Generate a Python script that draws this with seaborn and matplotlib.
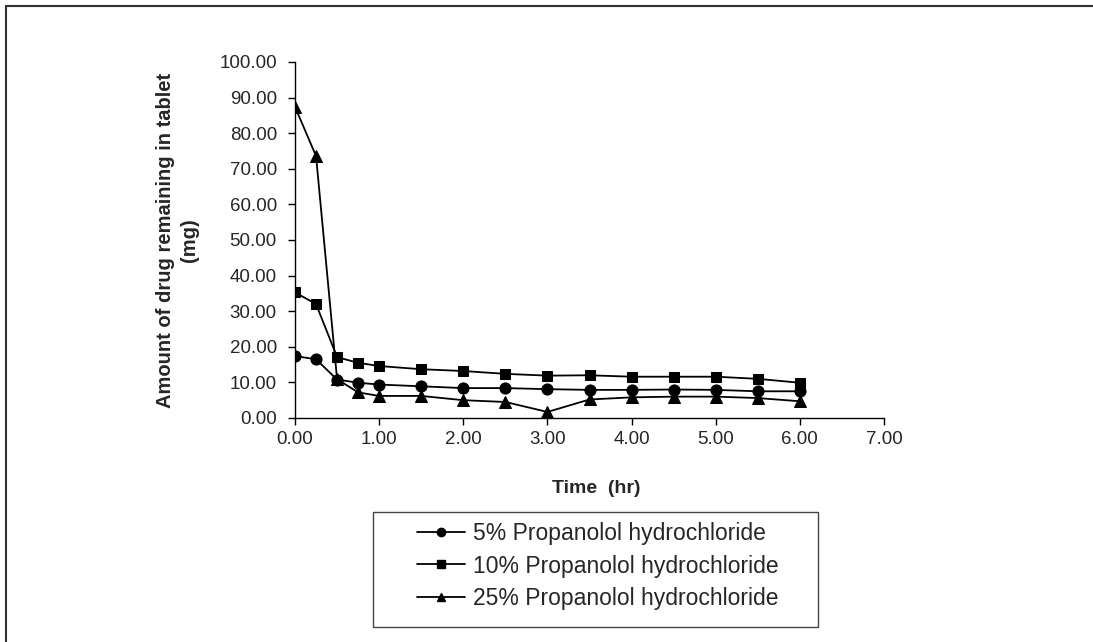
import matplotlib
matplotlib.use("Agg")
import matplotlib.pyplot as plt
from matplotlib.lines import Line2D
from matplotlib.patches import Rectangle
from matplotlib.ticker import FormatStrFormatter, MultipleLocator
import seaborn as sns
import pandas as pd

# Release data: time (hr) vs drug remaining in tablet (mg)
time_hr = [0, 0.25, 0.5, 0.75, 1.0, 1.5, 2.0, 2.5, 3.0, 3.5, 4.0, 4.5, 5.0, 5.5, 6.0]
drug_5 = [17.4, 16.5, 10.8, 9.9, 9.4, 8.9, 8.4, 8.4, 8.1, 7.9, 7.9, 8.0, 7.9, 7.5, 7.5]
drug_10 = [35.3, 32.0, 17.1, 15.5, 14.6, 13.7, 13.2, 12.4, 11.9, 12.0, 11.6, 11.6, 11.6, 11.0, 9.9]
drug_25 = [87.4, 73.6, 10.9, 7.2, 6.2, 6.2, 5.0, 4.5, 1.7, 5.2, 5.8, 6.0, 6.0, 5.6, 4.7]

series_labels = [
    "5% Propanolol hydrochloride",
    "10% Propanolol hydrochloride",
    "25% Propanolol hydrochloride",
]
series_values = [drug_5, drug_10, drug_25]
series_markers = ["o", "s", "^"]
marker_sizes = [8.0, 7.5, 8.5]

sns.set_style("white")
plt.rcParams["font.family"] = ["Liberation Sans", "DejaVu Sans"]

W, H = 1093, 642
fig = plt.figure(figsize=(W / 100, H / 100), dpi=100)
ax = fig.add_axes([295 / W, 1 - 418 / H, (884 - 295) / W, (418 - 62) / H])

for label, vals, mk, ms in zip(series_labels, series_values, series_markers, marker_sizes):
    df = pd.DataFrame({"Time": time_hr, "Amount": vals})
    sns.lineplot(data=df, x="Time", y="Amount", ax=ax, color="black",
                 marker=mk, markersize=ms, markeredgecolor="black",
                 linewidth=1.3, label=label, legend=False)

ax.set_xlim(0, 7)
ax.set_ylim(0, 100)
ax.xaxis.set_major_locator(MultipleLocator(1))
ax.yaxis.set_major_locator(MultipleLocator(10))
ax.xaxis.set_major_formatter(FormatStrFormatter("%.2f"))
ax.yaxis.set_major_formatter(FormatStrFormatter("%.2f"))
ax.tick_params(axis="both", which="major", direction="out", length=5, width=1,
               color="black", labelsize=13.5, bottom=True, left=True)
ax.tick_params(axis="y", pad=8)
ax.tick_params(axis="x", pad=4)

for side in ["top", "right"]:
    ax.spines[side].set_visible(False)
for side in ["left", "bottom"]:
    ax.spines[side].set_color("black")
    ax.spines[side].set_linewidth(1.0)

ax.set_xlabel("Time  (hr)", fontsize=14, fontweight="bold")
ax.set_ylabel("Amount of drug remaining in tablet\n(mg)", fontsize=14.5,
              fontweight="bold", linespacing=1.3)
ax.xaxis.set_label_coords(0.511, -0.175)
ax.yaxis.set_label_coords(-0.163, 0.5)

# Legend inside a separate boxed area below the axes
handles = [Line2D([0], [0], color="black", linewidth=1.3, marker=mk, markersize=6)
           for mk in series_markers]
fig.legend(handles, series_labels, loc="center",
           bbox_to_anchor=(598 / W, 1 - 566 / H), frameon=False,
           fontsize=16.5, handlelength=2.1, handletextpad=0.35, labelspacing=0.4)
fig.patches.append(Rectangle((373 / W, 1 - 627 / H), (818 - 373) / W, (627 - 512) / H,
                             transform=fig.transFigure, fill=False,
                             edgecolor="#444444", linewidth=1.0))

# Outer chart frame (top and left edges)
fig.lines.append(Line2D([6 / W, 6 / W], [1 - 6 / H, 0], transform=fig.transFigure,
                        color="#333333", linewidth=1.5))
fig.lines.append(Line2D([6 / W, 1], [1 - 6 / H, 1 - 6 / H], transform=fig.transFigure,
                        color="#333333", linewidth=1.5))

fig.savefig("out.png", dpi=100)
